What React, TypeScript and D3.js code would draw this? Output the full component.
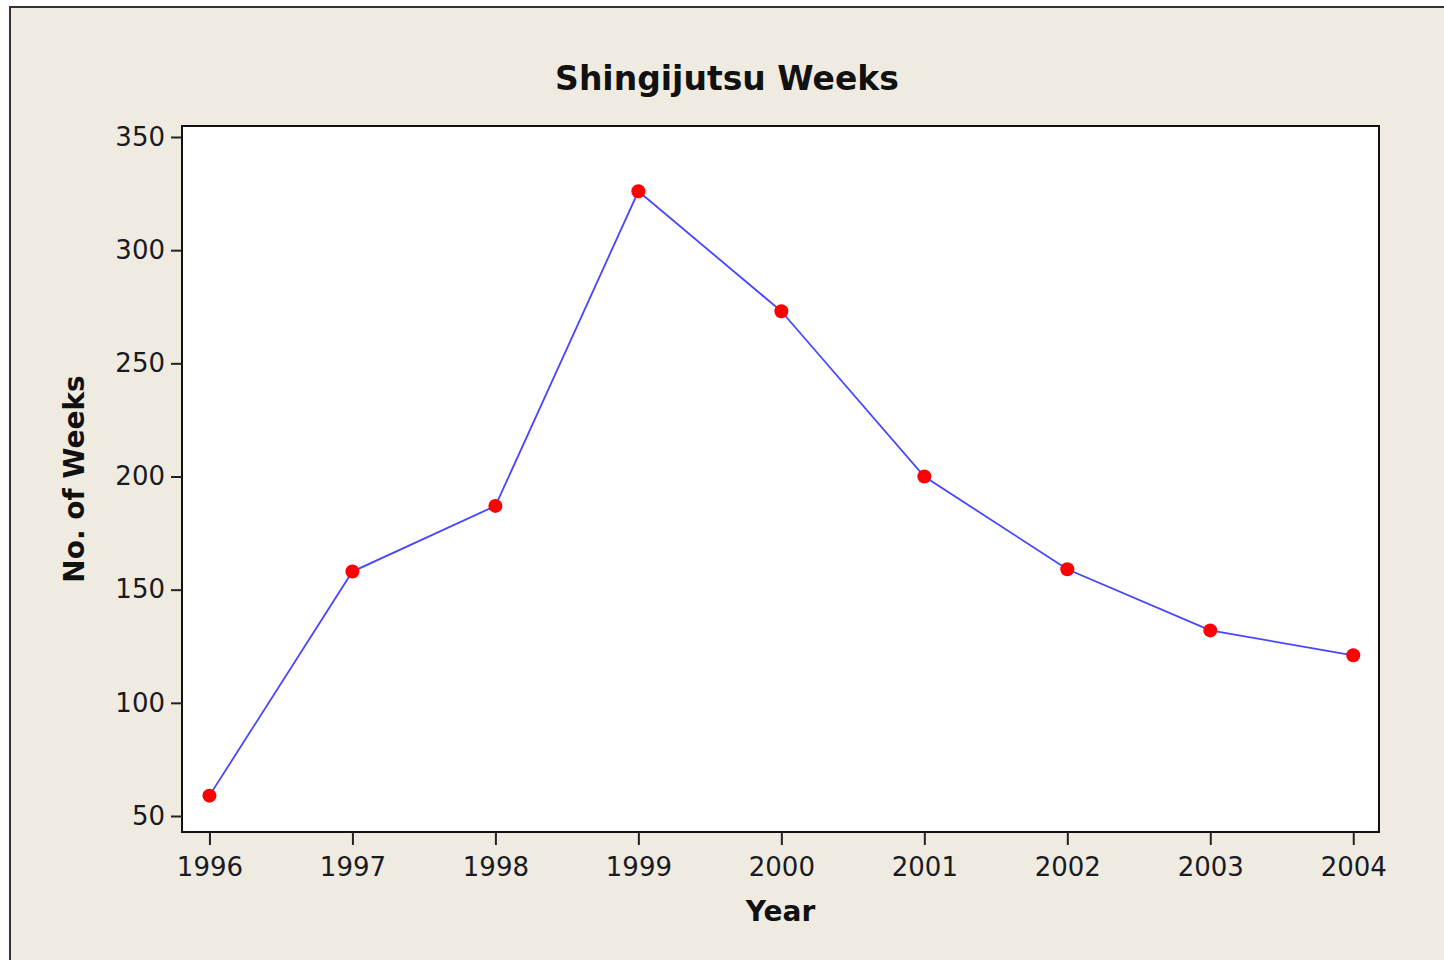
import { useEffect, useRef } from "react";
import * as d3 from "d3";

const years = [1996, 1997, 1998, 1999, 2000, 2001, 2002, 2003, 2004];
const weeks = [59, 158, 187, 326, 273, 200, 159, 132, 121];
const yTicks = [50, 100, 150, 200, 250, 300, 350];

const W = 1444;
const H = 960;

export default function App() {
  const svgRef = useRef<SVGSVGElement | null>(null);

  useEffect(() => {
    const svg = svgRef.current;
    if (!svg) return;
    svg.innerHTML = "";

    const plot = { left: 182, top: 126, right: 1379, bottom: 832 };
    const font = "'DejaVu Sans', Verdana, sans-serif";

    const x = d3
      .scaleLinear()
      .domain([1995.808, 2004.18])
      .range([plot.left, plot.right]);
    const y = d3
      .scaleLinear()
      .domain([42.93, 354.86])
      .range([plot.bottom, plot.top]);

    const root = d3.select(svg);

    // beige frame, cut off at the right and bottom
    root
      .append("rect")
      .attr("x", 10)
      .attr("y", 7)
      .attr("width", W + 20)
      .attr("height", H + 20)
      .attr("fill", "#efebe1")
      .attr("stroke", "#333")
      .attr("stroke-width", 2);

    root
      .append("rect")
      .attr("x", plot.left)
      .attr("y", plot.top)
      .attr("width", plot.right - plot.left)
      .attr("height", plot.bottom - plot.top)
      .attr("fill", "#fff")
      .attr("stroke", "#111")
      .attr("stroke-width", 2);

    const yAxis = root
      .append("g")
      .attr("transform", `translate(${plot.left},0)`)
      .call(d3.axisLeft(y).tickValues(yTicks).tickSize(11).tickPadding(6).tickFormat(d3.format("d")));
    yAxis.select(".domain").remove();
    yAxis.selectAll("line").attr("stroke", "#222").attr("stroke-width", 2);
    yAxis
      .selectAll("text")
      .attr("font-family", font)
      .attr("font-size", 26)
      .attr("fill", "#1a1a22");

    const xAxis = root
      .append("g")
      .attr("transform", `translate(0,${plot.bottom})`)
      .call(d3.axisBottom(x).tickValues(years).tickSize(13).tickPadding(13).tickFormat(d3.format("d")));
    xAxis.select(".domain").remove();
    xAxis.selectAll("line").attr("stroke", "#222").attr("stroke-width", 2);
    xAxis
      .selectAll("text")
      .attr("font-family", font)
      .attr("font-size", 26)
      .attr("fill", "#1a1a22");

    const line = d3
      .line<number>()
      .x((_, i) => x(years[i]))
      .y((d) => y(d));

    root
      .append("path")
      .datum(weeks)
      .attr("d", line)
      .attr("fill", "none")
      .attr("stroke", "#4646ff")
      .attr("stroke-width", 1.8);

    root
      .append("g")
      .selectAll("circle")
      .data(weeks)
      .join("circle")
      .attr("cx", (_, i) => x(years[i]))
      .attr("cy", (d) => y(d))
      .attr("r", 7)
      .attr("fill", "#ff0000");

    root
      .append("text")
      .attr("x", 727)
      .attr("y", 90)
      .attr("text-anchor", "middle")
      .attr("font-family", font)
      .attr("font-weight", "bold")
      .attr("font-size", 33)
      .attr("fill", "#111")
      .text("Shingijutsu Weeks");

    root
      .append("text")
      .attr("x", (plot.left + plot.right) / 2)
      .attr("y", 921)
      .attr("text-anchor", "middle")
      .attr("font-family", font)
      .attr("font-weight", "bold")
      .attr("font-size", 28)
      .attr("fill", "#111")
      .text("Year");

    root
      .append("text")
      .attr("transform", `translate(84,${(plot.top + plot.bottom) / 2}) rotate(-90)`)
      .attr("text-anchor", "middle")
      .attr("font-family", font)
      .attr("font-weight", "bold")
      .attr("font-size", 28)
      .attr("fill", "#111")
      .text("No. of Weeks");
  }, []);

  return (
    <svg
      ref={svgRef}
      width={W}
      height={H}
      style={{ position: "absolute", left: 0, top: 0, display: "block" }}
    />
  );
}
